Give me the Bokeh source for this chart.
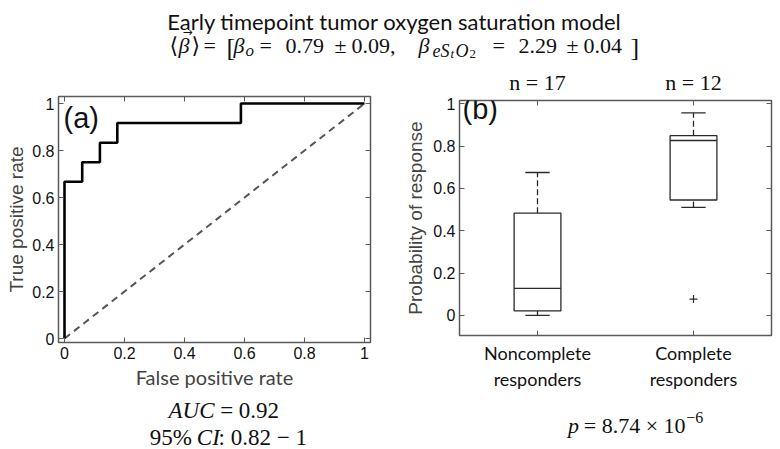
from bokeh.plotting import figure
from bokeh.models import Range1d, FixedTicker, LinearAxis, Label
from bokeh.layouts import column, row
from bokeh.embed import file_html
from bokeh.resources import INLINE

# ---------------- data ----------------
roc_fpr = [0.0, 0.0, 0.059, 0.059, 0.118, 0.118, 0.176, 0.176, 0.588, 0.588, 1.0]
roc_tpr = [0.0, 0.667, 0.667, 0.750, 0.750, 0.833, 0.833, 0.917, 0.917, 1.0, 1.0]
chance_x = [0.0, 1.0]
chance_y = [0.0, 1.0]
roc_ticks = [0, 0.2, 0.4, 0.6, 0.8, 1]
roc_tick_labels = ["0", "0.2", "0.4", "0.6", "0.8", "1"]

groups = ["Noncomplete\nresponders", "Complete\nresponders"]
group_pos = [1, 2]
group_n = ["n = 17", "n = 12"]
whisker_low = [0.0, 0.51]
q1 = [0.021, 0.545]
median = [0.128, 0.826]
q3 = [0.483, 0.849]
whisker_high = [0.675, 0.957]
outlier_group = [2]
outlier_value = [0.077]
prob_ticks = [0, 0.2, 0.4, 0.6, 0.8, 1]
prob_tick_labels = ["0", "0.2", "0.4", "0.6", "0.8", "1"]

SANS = "Liberation Sans"
CAL = "Lato"
SERIF = "Liberation Serif"
FRAME = "#5a5a5a"
INK = "#2a2a2a"


def style_axis(ax, ticks, labels, show, size="16px", font=SANS):
    ax.ticker = FixedTicker(ticks=ticks)
    ax.major_label_overrides = {t: (l if show else "") for t, l in zip(ticks, labels)}
    ax.major_tick_in = 5
    ax.major_tick_out = 0
    ax.major_tick_line_color = FRAME
    ax.major_tick_line_width = 1
    ax.minor_tick_line_color = None
    ax.axis_line_color = None
    ax.major_label_text_font = font
    ax.major_label_text_font_size = size
    ax.major_label_text_color = "#111111"
    ax.major_label_standoff = 4 if show else 0
    ax.axis_label_text_font_style = "normal"


def txt(fig, x, y, s, size=23, italic=False, font=SERIF, align="left",
        baseline="middle", xu="data", yu="data"):
    fig.add_layout(Label(x=x, y=y, x_units=xu, y_units=yu, text=s,
                         text_font=font, text_font_size=f"{size}px",
                         text_font_style="italic" if italic else "normal",
                         text_align=align, text_baseline=baseline,
                         text_color="#111111"))


def strip(w, h):
    f = figure(width=w, height=h, x_range=Range1d(0, w), y_range=Range1d(0, h),
               x_axis_type=None, y_axis_type=None, output_backend="svg",
               toolbar_location=None, min_border=0)
    f.outline_line_color = None
    f.grid.visible = False
    return f


# ---------------- title strip (page y 0..66) ----------------
tfig = strip(780, 66)
txt(tfig, 394, 45, "Early timepoint tumor oxygen saturation model", size=22,
    font=CAL, align="center", baseline="alphabetic")

base = 21
line2 = [
    (169, "\u27e8", 22, False, 0, "DejaVu Sans", "left"),
    (178, "\u03b2", 22, True, 0, SERIF, "left"),
    (187, "\u2192", 12, False, 14, "DejaVu Sans", "center"),
    (191, "\u27e9", 22, False, 0, "DejaVu Sans", "left"),
    (203, "=", 22, False, 0, SERIF, "left"),
    (226, "[", 26, False, -2, SERIF, "left"),
    (233, "\u03b2", 22, True, 0, SERIF, "left"),
    (245, "o", 17, True, -5, SERIF, "left"),
    (259, "=", 22, False, 0, SERIF, "left"),
    (285, "0.79", 22, False, 0, SERIF, "left"),
    (334, "\u00b1", 22, False, 0, SERIF, "left"),
    (351, "0.09,", 22, False, 0, SERIF, "left"),
    (418, "\u03b2", 22, True, 0, SERIF, "left"),
    (432, "eS", 18, True, -5, SERIF, "left"),
    (450, "t", 13, True, -8, SERIF, "left"),
    (455, "O", 18, True, -5, SERIF, "left"),
    (469, "2", 13, False, -8, SERIF, "left"),
    (492, "=", 22, False, 0, SERIF, "left"),
    (518, "2.29", 22, False, 0, SERIF, "left"),
    (566, "\u00b1", 22, False, 0, SERIF, "left"),
    (583, "0.04", 22, False, 0, SERIF, "left"),
    (630, "]", 26, False, -2, SERIF, "left"),
]
for x, s, sz, it, dy, fnt, al in line2:
    txt(tfig, x, base + dy, s, size=sz, italic=it, font=fnt, align=al, baseline="alphabetic")

# ---------------- (a) ROC ----------------
left = figure(width=388, height=326, x_range=Range1d(-0.02, 1.02), y_range=Range1d(-0.017, 1.03),
              output_backend="svg", toolbar_location=None,
              min_border_left=58, min_border_right=18, min_border_top=30, min_border_bottom=50)
left.grid.visible = False
left.outline_line_color = FRAME
left.outline_line_width = 1.5

style_axis(left.xaxis[0], roc_ticks, roc_tick_labels, True)
style_axis(left.yaxis[0], roc_ticks, roc_tick_labels, True)
left.xaxis[0].axis_label = "False positive rate"
left.xaxis[0].axis_label_text_font = CAL
left.xaxis[0].axis_label_text_font_size = "20px"
left.xaxis[0].axis_label_standoff = 3
left.yaxis[0].axis_label = "True positive rate"
left.yaxis[0].axis_label_text_font = SANS
left.yaxis[0].axis_label_text_font_size = "19px"
left.yaxis[0].axis_label_standoff = 2
for loc in ("above", "right"):
    ax = LinearAxis()
    style_axis(ax, roc_ticks, roc_tick_labels, False)
    left.add_layout(ax, loc)

left.line(chance_x, chance_y, line_color="#555555", line_width=2, line_dash="7 5")
left.line(roc_fpr, roc_tpr, line_color="black", line_width=2.6)
left.add_layout(Label(x=5, y=225, x_units="screen", y_units="screen", text="(a)",
                      text_font=SANS, text_font_size="29px", text_baseline="middle",
                      text_color="#111111"))

# text strip under (a): page y 392..449
lstrip = strip(388, 57)
txt(lstrip, 194, 39, "AUC", italic=True, align="right")
txt(lstrip, 201, 39, "= 0.92")
txt(lstrip, 166, 12, "95%", align="right")
txt(lstrip, 172, 12, "CI", italic=True)
txt(lstrip, 199, 12, ": 0.82 \u2212 1")

# ---------------- (b) box plot ----------------
right = figure(width=392, height=326, x_range=Range1d(0.5, 2.5), y_range=Range1d(-0.095, 1.015),
               output_backend="svg", toolbar_location=None,
               min_border_left=71, min_border_right=9, min_border_top=30, min_border_bottom=48)
right.grid.visible = False
right.outline_line_color = FRAME
right.outline_line_width = 1.5

style_axis(right.xaxis[0], group_pos, groups, True, size="18px", font=CAL)
right.xaxis[0].major_label_standoff = 6
style_axis(right.yaxis[0], prob_ticks, prob_tick_labels, True)
right.yaxis[0].axis_label = "Probability of response"
right.yaxis[0].axis_label_text_font = SANS
right.yaxis[0].axis_label_text_font_size = "19px"
right.yaxis[0].axis_label_standoff = 4
ax_top = LinearAxis()
style_axis(ax_top, group_pos, group_n, True, size="22px", font=SERIF)
ax_top.major_label_standoff = 6
right.add_layout(ax_top, "above")
ax_right = LinearAxis()
style_axis(ax_right, prob_ticks, prob_tick_labels, False)
right.add_layout(ax_right, "right")

box_half = 0.15
cap_half = 0.078
lefts = [g - box_half for g in group_pos]
rights = [g + box_half for g in group_pos]
cap_l = [g - cap_half for g in group_pos]
cap_r = [g + cap_half for g in group_pos]

right.segment(group_pos, q3, group_pos, whisker_high, line_color=INK, line_width=1.3, line_dash="6 3")
right.segment(group_pos, whisker_low, group_pos, q1, line_color=INK, line_width=1.3, line_dash="6 3")
right.segment(cap_l, whisker_high, cap_r, whisker_high, line_color=INK, line_width=1.3)
right.segment(cap_l, whisker_low, cap_r, whisker_low, line_color=INK, line_width=1.3)
right.quad(left=lefts, right=rights, bottom=q1, top=q3, fill_color="white",
           line_color=INK, line_width=1.3)
right.segment(lefts, median, rights, median, line_color=INK, line_width=1.3)
right.scatter(outlier_group, outlier_value, marker="cross", size=8, line_color=INK, line_width=1.2)
right.add_layout(Label(x=3, y=227, x_units="screen", y_units="screen", text="(b)",
                       text_font=SANS, text_font_size="29px", text_baseline="middle",
                       text_color="#111111"))

# text strip under (b): page x 388..780, y 392..449
rstrip = strip(392, 57)
txt(rstrip, 150, 24, "p", size=22, italic=True, align="right")
txt(rstrip, 284, 24, "= 8.74 \u00d7 10", size=22, align="right")
txt(rstrip, 285, 32, "\u22126", size=16)

layout = column(tfig, row(column(left, lstrip), column(right, rstrip)))
open("out.html", "w").write(file_html(layout, INLINE))
